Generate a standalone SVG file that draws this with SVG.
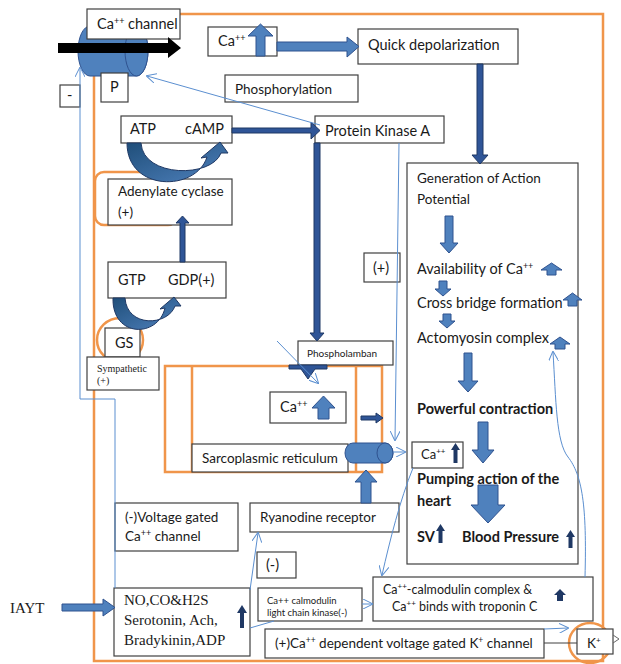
<svg xmlns="http://www.w3.org/2000/svg" width="621" height="664" viewBox="0 0 621 664">
  <defs>
    <style>
      .box{fill:#fff;stroke:#404040;stroke-width:1.2}
      .t{font-family:Lato,"Liberation Sans",sans-serif;font-size:14.5px;fill:#1a1a1a}
      .m{font-size:13.5px}
      .b{font-weight:bold}
      .s{font-family:"Liberation Serif",serif;fill:#1a1a1a}
      .org{fill:none;stroke:#f0954a;stroke-width:2.5}
      .thin{fill:none;stroke:#5b8fd0;stroke-width:1;marker-end:url(#open)}
      .mid{fill:#4f81bd;stroke:#2f528f;stroke-width:1}
      .dark{fill:#2f5597;stroke:#1f3864;stroke-width:1}
      .navy{fill:#1f3864;stroke:none}
      .curve{fill:url(#cg);stroke:#1f3864;stroke-width:1}
    </style>
    <marker id="open" viewBox="0 0 10 10" refX="9" refY="5" markerWidth="10" markerHeight="10" markerUnits="userSpaceOnUse" orient="auto">
      <path d="M0,0 L10,5 L0,10" fill="none" stroke="#5b8fd0" stroke-width="1"/>
    </marker>
    <linearGradient id="cg" x1="0" y1="0" x2="1" y2="1">
      <stop offset="0" stop-color="#1f4e79"/>
      <stop offset="1" stop-color="#4f81bd"/>
    </linearGradient>
  </defs>

  <!-- cell membrane and background outlines -->
  <g id="membrane">
    <rect class="org" x="94" y="14" width="509" height="647"/>
    <rect class="org" x="95" y="172" width="82" height="53" rx="9"/>
    <ellipse class="org" cx="120" cy="340" rx="23" ry="22"/>
    <ellipse class="org" cx="590" cy="643" rx="21" ry="20"/>
  </g>

  <!-- calcium channel -->
  <g id="ca-channel">
    <path class="mid" d="M90,26 L136.5,26 A11.5,25 0 0 1 136.5,76 L90,76 A12,25 0 0 1 90,26 Z"/>
    <ellipse class="mid" cx="136.5" cy="51" rx="11.5" ry="25"/>
    <rect class="box" x="87" y="9" width="93" height="30"/>
    <text class="t" x="97" y="29">Ca<tspan dy="-5" font-size="9">++</tspan><tspan dy="5"> channel</tspan></text>
    <polygon fill="#000" points="58,43 168,43 168,37 181,48 168,58 168,53 58,53"/>
  </g>
  <g id="p">
    <rect class="box" x="101" y="73" width="27" height="29"/>
    <text class="t" x="110" y="92">P</text>
  </g>
  <g id="minus">
    <rect class="box" x="60" y="85" width="20" height="22"/>
    <text class="t" x="67" y="100">-</text>
  </g>

  <g id="ca-top">
    <rect class="box" x="208" y="27" width="69" height="29"/>
    <text class="t" x="218" y="46">Ca<tspan dy="-5" font-size="9">++</tspan></text>
    <polygon class="mid" points="260.5,24 273,36 265,36 265,56 256,56 256,36 248,36"/>
  </g>
  <g id="quick-depol">
    <rect class="box" x="358" y="29" width="160" height="35"/>
    <text class="t" x="368" y="50">Quick depolarization</text>
  </g>
  <g id="phosphorylation">
    <rect class="box" x="225" y="75" width="133" height="27"/>
    <text class="t m" x="235" y="94">Phosphorylation</text>
  </g>
  <g id="atp-camp">
    <rect class="box" x="121" y="116" width="111" height="27"/>
    <text class="t" x="130" y="134">ATP</text>
    <text class="t" x="185" y="134">cAMP</text>
  </g>
  <g id="pka">
    <rect class="box" x="315" y="116" width="129" height="27"/>
    <text class="t" x="325" y="136">Protein Kinase A</text>
  </g>
  <g id="adenylate">
    <rect class="box" x="108" y="179" width="124" height="46"/>
    <text class="t m" x="118" y="196">Adenylate cyclase</text>
    <text class="t m" x="118" y="217">(+)</text>
  </g>
  <g id="gtp-gdp">
    <rect class="box" x="108" y="262" width="118" height="36"/>
    <text class="t" x="118" y="285">GTP</text>
    <text class="t" x="168" y="285">GDP(+)</text>
  </g>
  <g id="gs">
    <rect class="box" x="105" y="328" width="35" height="29"/>
    <text class="t" x="115" y="348">GS</text>
  </g>
  <g id="sympathetic">
    <rect class="box" x="87" y="357" width="72" height="33"/>
    <text class="s" x="97" y="372" font-size="10">Sympathetic</text>
    <text class="s" x="97" y="384" font-size="10">(+)</text>
  </g>
  <g id="plus">
    <rect class="box" x="364" y="253" width="36" height="29"/>
    <text class="t" x="373" y="273">(+)</text>
  </g>

  <!-- sarcoplasmic reticulum -->
  <g id="sr">
    <rect class="org" x="165" y="366" width="217" height="106"/>
    <line class="org" x1="192" y1="366" x2="192" y2="472"/>
    <line class="org" x1="356" y1="366" x2="356" y2="472"/>
    <rect class="box" x="192" y="444" width="156" height="28"/>
    <text class="t m" x="202" y="463">Sarcoplasmic reticulum</text>
  </g>
  <g id="sr-ca">
    <rect class="box" x="270" y="392" width="76" height="31"/>
    <text class="t" x="280" y="412">Ca<tspan dy="-5" font-size="9">++</tspan></text>
    <polygon class="mid" points="323.5,396 335,408 329,408 329,419 318,419 318,408 312,408"/>
  </g>
  <g id="phospholamban">
    <rect class="box" x="298" y="341" width="95" height="24"/>
    <text class="t" x="307" y="357" style="font-size:10px">Phospholamban</text>
  </g>
  <g id="sr-channel">
    <path class="mid" d="M353,443 L385,443 A8,10 0 0 1 385,463 L353,463 A8,10 0 0 1 353,443 Z"/>
    <ellipse class="mid" cx="385" cy="453" rx="8" ry="10"/>
  </g>
  <g id="ryanodine">
    <rect class="box" x="250" y="503" width="149" height="29"/>
    <text class="t m" x="260" y="522">Ryanodine receptor</text>
  </g>

  <!-- contraction cascade -->
  <g id="cascade">
    <rect class="box" x="407" y="163" width="171" height="401"/>
    <text class="t m" x="417" y="183">Generation of Action</text>
    <text class="t m" x="417" y="204">Potential</text>
    <polygon class="mid" points="445,216 453,216 453,243 458,243 449,253 440,243 445,243"/>
    <text class="t" x="417" y="274">Availability of Ca<tspan dy="-5" font-size="9">++</tspan></text>
    <polygon class="mid" points="551.5,263 562,270 556,270 556,275 547,275 547,270 541,270"/>
    <polygon class="mid" points="439,281 447,281 447,289 451,289 443,296 435,289 439,289"/>
    <text class="t" x="417" y="308">Cross bridge formation</text>
    <polygon class="mid" points="572.5,293 582,300 577,300 577,306 568,306 568,300 563,300"/>
    <polygon class="mid" points="443,314 451,314 451,321 455,321 447,328 439,321 443,321"/>
    <text class="t" x="417" y="343">Actomyosin complex</text>
    <polygon class="mid" points="560,337 570,344 565,344 565,349 555,349 555,344 550,344"/>
    <polygon class="mid" points="464,353 472,353 472,381 478,381 468,392 458,381 464,381"/>
    <text class="t b" x="417" y="414">Powerful contraction</text>
    <polygon class="mid" points="478,422 488,422 488,450 494,450 483,463 472,450 478,450"/>
    <text class="t b" x="417" y="484">Pumping action of the</text>
    <text class="t b" x="417" y="506">heart</text>
    <polygon class="mid" points="478,485 498,485 498,505 505,505 488,523 471,505 478,505"/>
    <text class="t b" x="417" y="542">SV</text>
    <polygon class="navy" points="440.5,524 445,531 442.5,531 442.5,543 438.5,543 438.5,531 436,531"/>
    <text class="t b" x="462" y="542">Blood Pressure</text>
    <polygon class="navy" points="570.5,530 575,537 572.5,537 572.5,548 568.5,548 568.5,537 566,537"/>
  </g>
  <g id="ca-small">
    <rect class="box" x="412" y="442" width="51" height="26"/>
    <text class="t" x="421" y="459" style="font-size:13px">Ca<tspan dy="-5" font-size="8">++</tspan></text>
    <polygon class="navy" points="455.5,443 460,450 457.5,450 457.5,463 453.5,463 453.5,450 451,450"/>
  </g>

  <g id="voltage-gated">
    <rect class="box" x="115" y="503" width="123" height="48"/>
    <text class="t m" x="125" y="522">(-)Voltage gated</text>
    <text class="t m" x="125" y="541">Ca<tspan dy="-5" font-size="9">++</tspan><tspan dy="5"> channel</tspan></text>
  </g>
  <g id="minus2">
    <rect class="box" x="257" y="552" width="39" height="26"/>
    <text class="t" x="266" y="570">(-)</text>
  </g>
  <g id="mediators">
    <rect class="box" x="114" y="588" width="136" height="68"/>
    <text class="s" x="124" y="605" font-size="15">NO,CO&amp;H2S</text>
    <text class="s" x="124" y="625" font-size="15">Serotonin, Ach,</text>
    <text class="s" x="124" y="645" font-size="15">Bradykinin,ADP</text>
    <polygon class="navy" points="242,605 247,613 244,613 244,628 240,628 240,613 237,613"/>
  </g>
  <g id="iayt">
    <text class="s" x="10" y="613" font-size="15">IAYT</text>
  </g>
  <g id="mlck">
    <rect class="box" x="258" y="588" width="104" height="33"/>
    <text class="t" x="267" y="604" style="font-size:9.5px">Ca++ calmodulin</text>
    <text class="t" x="267" y="616" style="font-size:9.5px">light chain kinase(-)</text>
  </g>
  <g id="calmodulin">
    <rect class="box" x="373" y="577" width="220" height="44"/>
    <text class="t" x="383" y="594" style="font-size:12.5px">Ca<tspan dy="-5" font-size="8">++</tspan><tspan dy="5">-calmodulin complex   &amp;</tspan></text>
    <text class="t" x="392" y="611" style="font-size:12.5px">Ca<tspan dy="-5" font-size="8">++</tspan><tspan dy="5"> binds with troponin C</tspan></text>
    <polygon class="navy" points="560,589 566,595 563,595 563,601 557,601 557,595 554,595"/>
  </g>
  <g id="k-dependent">
    <rect class="box" x="265" y="629" width="279" height="29"/>
    <text class="t" x="275" y="648" style="font-size:13.5px">(+)Ca<tspan dy="-5" font-size="8.5">++</tspan><tspan dy="5"> dependent voltage gated K</tspan><tspan dy="-5" font-size="8.5">+</tspan><tspan dy="5"> channel</tspan></text>
  </g>
  <g id="k-channel">
    <rect class="box" x="577" y="629" width="36" height="25"/>
    <text class="t" x="587" y="648" style="font-size:13.5px">K<tspan dy="-5" font-size="8">+</tspan></text>
    <path d="M613,635 L619,639 L613,643" fill="none" stroke="#666" stroke-width="1"/>
  </g>

  <!-- connectors -->
  <g id="connectors">
    <polygon class="mid" points="277,42 347,42 347,37 359,46.5 347,57 347,51 277,51"/>
    <polygon class="dark" points="477,64 483,64 483,155 488,155 480,164 472,155 477,155"/>
    <polygon class="dark" points="232,128 311,128 311,122 320,130.5 311,139 311,133 232,133"/>
    <polygon class="dark" points="314,143 320,143 320,333 324,333 317,341 310,333 314,333"/>
    <polygon class="dark" points="289,365 327,365 327,369 315,369 308,379 301,369 289,369"/>
    <polygon class="dark" points="180,262 185,262 185,223 189,223 182.5,216 176,223 180,223"/>
    <polygon class="dark" points="361,416 376,416 376,413 383,418 376,423 376,420 361,420"/>
    <polygon class="mid" points="361,503 371,503 371,482 377,482 366,470 355,482 361,482"/>
    <polygon class="mid" points="62,604 103,604 103,599 115,607.5 103,616 103,611 62,611"/>
    <path class="curve" d="M127,143 C127,192 196,192 207,157 L201,158 L220,142 L228,153 L221,153 C212,178 143,178 141,143 Z"/>
    <path class="curve" d="M113,298 C112,338 158,338 165,308 L160,309 L174,297 L181,306 L175,306 C168,326 127,328 125,298 Z"/>
    <path class="thin" d="M320,125 L147,76"/>
    <path class="thin" d="M115,588 L115,399 L80,399 L80,68"/>
    <path class="thin" d="M399,143 L395,440"/>
    <path class="thin" d="M277,341 L318,383"/>
    <path class="thin" d="M393,452 L405,452"/>
    <path class="thin" d="M250,590 L258,533"/>
    <path class="thin" d="M362,604 L372,604"/>
    <path class="thin" d="M413,468 C400,500 390,540 382,575"/>
    <path class="thin" d="M585,577 C587,505 582,475 568,457 C556,442 556,400 553,352"/>
    <path d="M250,628 L274,621" fill="none" stroke="#5b8fd0" stroke-width="1"/>
    <path class="thin" d="M544,629 L568,628"/>
    <path d="M544,643 L577,643" fill="none" stroke="#404040" stroke-width="1"/>
  </g>
</svg>
